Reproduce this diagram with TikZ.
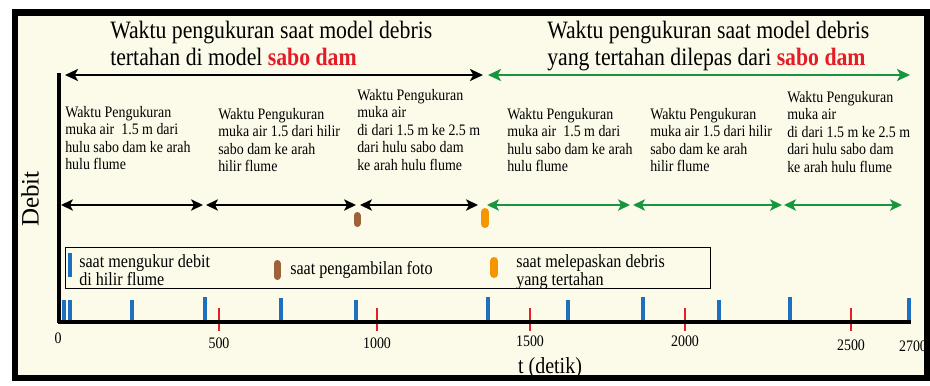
\documentclass[tikz,border=0pt]{standalone}
\usepackage{fontspec}
\setmainfont{Liberation Serif}[FakeStretch=0.87]
\newfontfamily\plainserif{Liberation Serif}
\usetikzlibrary{arrows.meta}
\definecolor{darkgreen}{RGB}{22,150,62}
\definecolor{redtxt}{RGB}{228,28,40}
\definecolor{barblue}{RGB}{28,112,190}
\definecolor{brownmk}{RGB}{158,98,58}
\definecolor{orangemk}{RGB}{245,150,0}
\definecolor{cream}{RGB}{252,250,232}
\definecolor{tickred}{RGB}{230,30,40}
\begin{document}
\begin{tikzpicture}[x=0.75pt,y=-0.75pt,
  titletext/.style={anchor=north west,inner sep=0pt,align=left,font=\fontsize{18.75}{20.25}\selectfont},
  blocktext/.style={anchor=north west,inner sep=0pt,align=left,font=\fontsize{12}{13.1}\selectfont},
  legendtext/.style={inner sep=0pt,align=left,font=\fontsize{13.9}{12.5}\selectfont},
  numlabel/.style={inner sep=0pt,font=\fontsize{12}{14}\selectfont},
  bigarrow/.style={line width=1.8pt,{Stealth[length=9.75pt,width=9pt,inset=2.5pt]}-{Stealth[length=9.75pt,width=9pt,inset=2.5pt]}},
  rowarrow/.style={line width=1.4pt,{Stealth[length=9pt,width=8.5pt,inset=2.3pt]}-{Stealth[length=9pt,width=8.5pt,inset=2.3pt]}},
  bluebar/.style={line width=2.6pt,barblue},
  redtick/.style={line width=1.2pt,tickred},
  brownmark/.style={line width=5.25pt,line cap=round,brownmk},
  orangemark/.style={line width=6pt,line cap=round,orangemk},
  axisline/.style={line width=2.6pt,black}
]
\useasboundingbox (0,0) rectangle (930,385);
\fill[white] (0,0) rectangle (930,385);
\fill[cream] (15,12.5) rectangle (927.5,378);

% titles
\node[titletext] (t1) at (110,20.5) {Waktu pengukuran saat model debris\\tertahan di model \textcolor{redtxt}{\textbf{sabo dam}}};
\node[titletext] (t2) at (547,20.5) {Waktu pengukuran saat model debris\\yang tertahan dilepas dari \textcolor{redtxt}{\textbf{sabo dam}}};

% top arrows
\coordinate (ta1) at (65,75);
\coordinate (ta2) at (483,75);
\coordinate (tb1) at (488,75);
\coordinate (tb2) at (910,75);
\draw[bigarrow] (ta1) -- (ta2);
\draw[bigarrow,darkgreen] (tb1) -- (tb2);

% text blocks
\node[blocktext] (b1) at (65,106) {Waktu Pengukuran\\muka air\ \ 1.5 m dari\\hulu sabo dam ke arah\\hulu flume};
\node[blocktext] (b2) at (218,108) {Waktu Pengukuran\\muka air 1.5 dari hilir\\sabo dam ke arah\\hilir flume};
\node[blocktext] (b3) at (357,89) {Waktu Pengukuran\\muka air\\di dari 1.5 m ke 2.5 m\\dari hulu sabo dam\\ke arah hulu flume};
\node[blocktext] (b4) at (507,108) {Waktu Pengukuran\\muka air\ \ 1.5 m dari\\hulu sabo dam ke arah\\hulu flume};
\node[blocktext] (b5) at (650,108) {Waktu Pengukuran\\muka air 1.5 dari hilir\\sabo dam ke arah\\hilir flume};
\node[blocktext] (b6) at (787,91) {Waktu Pengukuran\\muka air\\di dari 1.5 m ke 2.5 m\\dari hulu sabo dam\\ke arah hulu flume};

% row arrows
\coordinate (r1a) at (61,205);  \coordinate (r1b) at (203,205);
\coordinate (r2a) at (206,205); \coordinate (r2b) at (356,205);
\coordinate (r3a) at (360,205); \coordinate (r3b) at (478,205);
\coordinate (g1a) at (487,205); \coordinate (g1b) at (630,205);
\coordinate (g2a) at (633,205); \coordinate (g2b) at (782,205);
\coordinate (g3a) at (784,205); \coordinate (g3b) at (902,205);
\draw[rowarrow] (r1a) -- (r1b);
\draw[rowarrow] (r2a) -- (r2b);
\draw[rowarrow] (r3a) -- (r3b);
\draw[rowarrow,darkgreen] (g1a) -- (g1b);
\draw[rowarrow,darkgreen] (g2a) -- (g2b);
\draw[rowarrow,darkgreen] (g3a) -- (g3b);

% markers on row
\coordinate (bm1) at (357,215.5); \coordinate (bm2) at (357,223.5);
\coordinate (om1) at (485,212);   \coordinate (om2) at (485,224);
\draw[brownmark] (bm1) -- (bm2);
\draw[orangemark] (om1) -- (om2);

% legend
\node[draw,line width=1.1pt,minimum width=645*0.75pt,minimum height=41*0.75pt,inner sep=0pt,anchor=north west] (legend) at (65,247) {};
\coordinate (lb1) at (70,253); \coordinate (lb2) at (70,277);
\draw[bluebar] (lb1) -- (lb2);
\node[legendtext,anchor=north west] (l1) at (79,254) {saat mengukur debit\\di hilir flume};
\coordinate (lbr1) at (277,263.5); \coordinate (lbr2) at (277,276.5);
\draw[brownmark] (lbr1) -- (lbr2);
\node[legendtext,anchor=base west] (l2) at (290,274) {saat pengambilan foto};
\coordinate (lo1) at (494,261); \coordinate (lo2) at (494,274);
\draw[orangemark] (lo1) -- (lo2);
\node[legendtext,anchor=north west] (l3) at (516,254) {saat melepaskan debris\\yang tertahan};

% blue bars
\foreach \bx/\by [count=\i] in {64/300,70/300,132/300,205/297,281/298,356/300,488/297,568/300,643/297,719/300,790/297,909/298}{
  \coordinate (bt\i) at (\bx,\by);
  \coordinate (bb\i) at (\bx,322);
  \draw[bluebar] (bt\i) -- (bb\i);
}
% red ticks
\foreach \rx [count=\i] in {219,377,530,685,851}{
  \coordinate (rt\i) at (\rx,308);
  \coordinate (rb\i) at (\rx,331);
  \draw[redtick] (rt\i) -- (rb\i);
}

% axes
\coordinate (origin) at (59,322);
\coordinate (xend) at (911,322);
\coordinate (ytop) at (59,73);
\draw[axisline] (ytop) -- (59,323.3);
\draw[axisline] (57.7,322) -- (xend);

% axis labels
\node[numlabel] (n0) at (58,338) {0};
\node[numlabel] (n500) at (219,343) {500};
\node[numlabel] (n1000) at (377,343) {1000};
\node[numlabel] (n1500) at (530,341) {1500};
\node[numlabel] (n2000) at (685,341) {2000};
\node[numlabel] (n2500) at (851,345) {2500};
\node[numlabel] (n2700) at (913,346) {2700};
\node[inner sep=0pt,font=\fontsize{17.25}{20}\selectfont] (xlabel) at (550,368) {t (detik)};
\node[inner sep=0pt,rotate=90,font=\plainserif\fontsize{18.75}{20}\selectfont] (ylabel) at (30,199) {Debit};

% frame
\draw[line width=4.9pt] (15,12.5) rectangle (927.5,378);
\end{tikzpicture}
\end{document}
